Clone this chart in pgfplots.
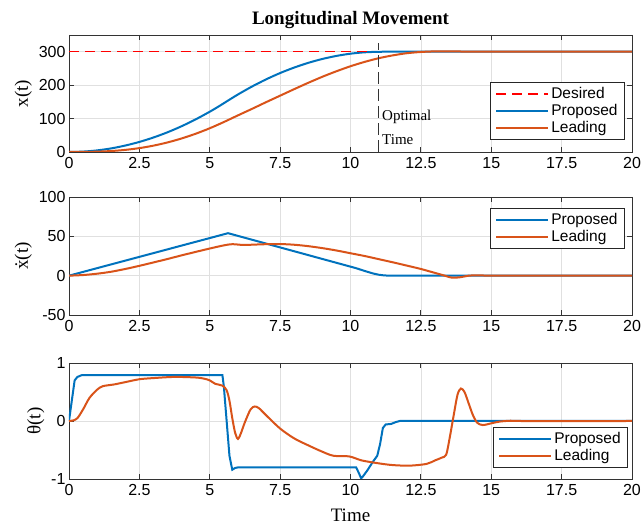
\documentclass[border=0pt]{standalone}
\usepackage{fontspec}
\setmainfont{Liberation Serif}
\setsansfont{Liberation Sans}
\usepackage{pgfplots}
\pgfplotsset{compat=1.18}

\definecolor{mblue}{RGB}{0,114,189}
\definecolor{morange}{RGB}{217,83,25}
\definecolor{mred}{RGB}{255,0,0}

\pgfplotsset{
  panel/.style={
    scale only axis,
    width=563pt,
    xmin=0, xmax=20,
    xtick={0,2.5,5,7.5,10,12.5,15,17.5,20},
    grid=major,
    major grid style={black!12, line width=0.6pt},
    axis line style={black!80, line width=0.8pt},
    tick align=inside,
    major tick length=5pt,
    tick style={black!80, line width=0.8pt},
    /pgf/number format/assume math mode=true,
    tick label style={font=\fontsize{16}{18}\selectfont\sffamily},
    xticklabel style={yshift=-2pt},
    ylabel style={font=\fontsize{19}{22}\selectfont},
    xlabel style={font=\fontsize{19}{22}\selectfont, yshift=-6pt},
    legend style={font=\fontsize{15.5}{18}\selectfont\sffamily, draw=black!85,
      line width=0.8pt, inner xsep=5pt, inner ysep=3.5pt, row sep=0pt},
    legend cell align=left,
    legend image code/.code={\draw[#1] (0pt,0pt) -- (52pt,0pt);},
    clip mode=individual,
  },
}

\begin{document}
\begin{tikzpicture}
\path[use as bounding box] (0,0) rectangle (643pt,524pt);

% ---- x(t)
\begin{axis}[panel,
  at={(69pt,372pt)}, anchor=south west, height=117pt,
  ymin=0, ymax=350, ytick={0,100,200,300},
  ylabel={x(t)},
  title={Longitudinal Movement},
  title style={font=\fontsize{19}{22}\selectfont\bfseries, yshift=-3pt},
  legend style={at={(0.9876,0.6)}, anchor=north east},
]
\addplot[color=mred, draw=mred, line width=1.5pt, dash pattern=on 10pt off 6pt] coordinates {(0,300) (20,300)};
\addlegendentry{Desired}
\addplot[draw=mblue, line width=2pt, smooth] coordinates {
(0,0) (0.5,1.2) (1,4.8) (1.5,10.8) (2,19.3) (2.5,30.1) (3,43.4) (3.5,59.0) (4,77.1)
(4.5,97.6) (5,120.5) (5.3,135.4) (5.6,151.2) (6,172.0) (6.5,195.8) (7,217.2) (7.5,236.2)
(8,252.6) (8.5,266.7) (9,278.3) (9.5,287.4) (10,294.1) (10.5,298.2) (11,299.7) (11.5,300)
(14,300) (20,300)};
\addlegendentry{Proposed}
\addplot[draw=morange, line width=2pt, smooth] coordinates {
(0,0) (0.5,0.2) (1,1) (1.5,2.9) (2,6.3) (2.5,11.6) (3,19) (3.5,28.6) (4,40.5) (4.5,54.6)
(5,71) (5.5,89.6) (6,109.5) (6.5,129) (7,149) (7.5,168.5) (8,188) (8.5,207) (9,225)
(9.5,241.5) (10,256.5) (10.5,269.5) (11,280.5) (11.5,289) (12,295.5) (12.5,299.2)
(13,301) (13.5,301.2) (14,300.5) (14.5,300) (16,300) (20,300)};
\addlegendentry{Leading}
\addplot[draw=black!80, line width=1.2pt, dash pattern=on 12pt off 5pt, forget plot] coordinates {(11,0) (11,325)};
\addplot[color=mred, draw=mred, line width=1.5pt, dash pattern=on 10pt off 6pt, forget plot] coordinates {(0,300) (10.6,300)};
\node[anchor=base west, font=\fontsize{15}{17}\selectfont, inner sep=0pt] at (axis cs:11.12,95) {Optimal};
\node[anchor=base west, font=\fontsize{15}{17}\selectfont, inner sep=0pt] at (axis cs:11.12,21) {Time};
\end{axis}

% ---- xdot(t)
\begin{axis}[panel,
  at={(69pt,209pt)}, anchor=south west, height=118pt,
  ymin=-50, ymax=100, ytick={-50,0,50,100},
  ylabel={\.{x}(t)},
  legend style={at={(0.9876,0.91)}, anchor=north east},
]
\addplot[draw=mblue, line width=2pt] coordinates {
(0,0) (5.65,54) (10.2,9.5) (10.5,6) (10.8,2.8) (11.0,1.2) (11.2,0.3) (11.4,0) (20,0)};
\addlegendentry{Proposed}
\addplot[draw=morange, line width=2pt, smooth] coordinates {
(0,0) (0.5,0.8) (1,2.5) (1.5,5) (2,8.5) (2.5,12.5) (3,16.8) (3.5,21.2) (4,25.8)
(4.5,30.2) (5,34.5) (5.5,38.5) (5.8,40) (6.2,39) (6.6,39.5) (7,40) (7.5,40.2) (8,39.3)
(8.5,37.5) (9,35) (9.5,32) (10,28.5) (10.5,25) (11,21) (11.5,17) (12,12.8) (12.5,8.5)
(13,3.5) (13.3,0.5) (13.6,-2.5) (13.9,-2) (14.2,0) (14.5,0.4) (15,0) (16,0) (20,0)};
\addlegendentry{Leading}
\end{axis}

% ---- theta(t)
\begin{axis}[panel,
  at={(69pt,45pt)}, anchor=south west, height=116pt,
  ymin=-1, ymax=1, ytick={-1,0,1},
  ylabel={θ(t)},
  xlabel={Time},
  legend style={at={(0.993,0.095)}, anchor=south east},
]
\addplot[draw=mblue, line width=2pt] coordinates {
(0,0) (0.1,0.35) (0.2,0.7) (0.3,0.76) (0.45,0.79) (5.45,0.79) (5.5,0.6) (5.6,0)
(5.7,-0.6) (5.8,-0.84) (5.9,-0.81) (6.0,-0.8) (10.2,-0.8) (10.3,-0.9) (10.38,-0.99)
(10.45,-0.95) (10.6,-0.85) (10.8,-0.7) (10.95,-0.6) (11.05,-0.4) (11.15,-0.12)
(11.25,-0.06) (11.45,-0.05) (11.6,-0.02) (11.75,0) (20,0)};
\addlegendentry{Proposed}
\addplot[draw=morange, line width=2pt, smooth] coordinates {
(0,0) (0.15,0.01) (0.3,0.05) (0.5,0.2) (0.73,0.4) (1,0.54) (1.2,0.6) (1.6,0.63) (2,0.67)
(2.5,0.72) (3,0.74) (3.75,0.76) (4.5,0.75) (4.8,0.73) (5,0.7) (5.2,0.64) (5.45,0.61)
(5.6,0.53) (5.7,0.35) (5.8,0.05) (5.9,-0.2) (6.0,-0.31) (6.1,-0.22) (6.25,-0.02)
(6.45,0.2) (6.6,0.25) (6.75,0.22) (7,0.1) (7.5,-0.13) (8,-0.3) (8.5,-0.42) (9,-0.53)
(9.4,-0.6) (9.95,-0.61) (10.4,-0.68) (11,-0.73) (11.5,-0.76) (12.1,-0.77) (12.7,-0.74)
(13,-0.68) (13.25,-0.63) (13.4,-0.58) (13.52,-0.3) (13.67,0.11) (13.8,0.45) (13.92,0.56)
(14.05,0.5) (14.2,0.3) (14.35,0.1) (14.5,-0.03) (14.7,-0.07) (15,-0.04) (15.3,-0.01)
(15.7,0.005) (16,0) (20,0)};
\addlegendentry{Leading}
\end{axis}
\end{tikzpicture}
\end{document}
